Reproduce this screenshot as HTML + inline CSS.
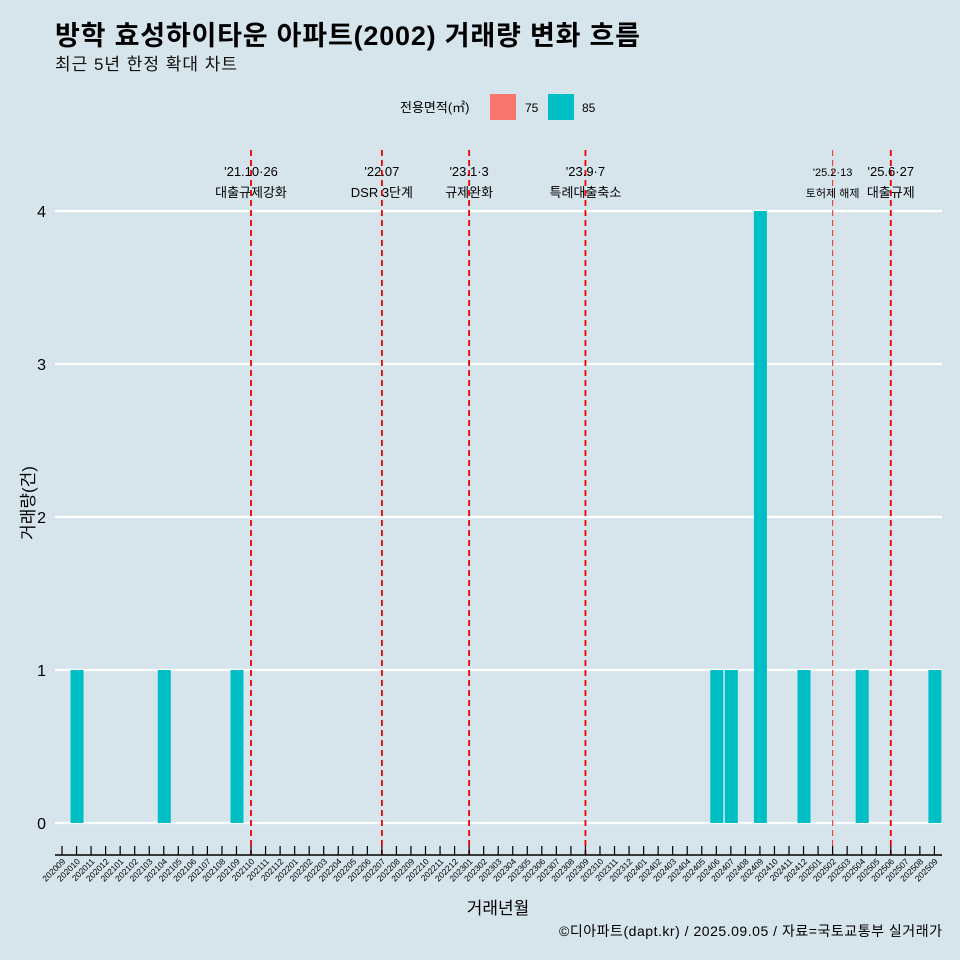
<!DOCTYPE html>
<html><head><meta charset="utf-8"><style>
body{margin:0;background:#d6e4eb;font-family:"Liberation Sans","Noto Sans CJK KR",sans-serif}
</style></head><body>
<svg id="c" width="960" height="960" xmlns="http://www.w3.org/2000/svg" style="display:block;font-family:'Liberation Sans','Noto Sans CJK KR',sans-serif">
<rect width="960" height="960" fill="#d6e4eb"/>
<text x="55" y="45" font-size="27" font-weight="bold" fill="#000" textLength="585">방학 효성하이타운 아파트(2002) 거래량 변화 흐름</text>
<text x="55" y="70" font-size="17" fill="#111" textLength="182">최근 5년 한정 확대 차트</text>
<g>
<text x="400" y="112" font-size="13">전용면적(㎡)</text>
<rect x="490" y="94" width="26" height="26" fill="#f8766d"/>
<text x="525" y="112" font-size="12">75</text>
<rect x="548" y="94" width="26" height="26" fill="#00bfc4"/>
<text x="582" y="112" font-size="12">85</text>
</g>
<g id="grid"></g><g id="bars"></g><g id="events"></g><g id="axes"></g>
<text x="498" y="914" font-size="17" text-anchor="middle">거래년월</text>
<text transform="translate(34,503) rotate(-90)" font-size="17" text-anchor="middle">거래량(건)</text>
<text x="942" y="936" font-size="14" text-anchor="end" textLength="383">©디아파트(dapt.kr) / 2025.09.05 / 자료=국토교통부 실거래가</text>
</svg>
<script>
const months=[];for(let y=2020;y<=2025;y++)for(let m=1;m<=12;m++){const k=y*100+m;if(k>=202009&&k<=202509)months.push(String(k));}
const barMonths=["202010","202104","202109","202406","202407","202409","202412","202504","202509"];
const barValues=[1,1,1,1,1,4,1,1,1];
const yTicks=[0,1,2,3,4];
const eventMonths=["202110","202207","202301","202309","202502","202506"];
const eventDates=["'21.10·26","'22.07","'23.1·3","'23.9·7","'25.2·13","'25.6·27"];
const eventLabels=["대출규제강화","DSR 3단계","규제완화","특례대출축소","토허제 해제","대출규제"];
const NS="http://www.w3.org/2000/svg";
const x=m=>62.5+months.indexOf(m)*14.54;
const y=v=>823-v*153;
function mk(t,a,p){const e=document.createElementNS(NS,t);for(const k in a)e.setAttribute(k,a[k]);p.appendChild(e);return e;}
const G=document.getElementById('grid'),B=document.getElementById('bars'),E=document.getElementById('events'),A=document.getElementById('axes');
yTicks.forEach(v=>{
 const l=mk('line',{x1:55,x2:942,y1:y(v),y2:y(v),stroke:'#fff','stroke-width':2.2},G);
 
 
 const t=mk('text',{x:46,y:y(v)+6,'font-size':16,'text-anchor':'end'},A);t.textContent=v;
 
 
});
barValues.forEach((v,i)=>{
 const r=mk('rect',{x:x(barMonths[i])-6.5,y:y(v),width:13,height:y(0)-y(v),fill:'#00bfc4'},B);
 
 
});
eventMonths.forEach((m,i)=>{
 const xx=x(m)-0.5;const thin=m==="202502";
 const l=mk('line',{x1:xx,x2:xx,y1:150,y2:855,stroke:thin?'#ee4444':'#ee0000','stroke-width':thin?1.2:1.8,'stroke-dasharray':'6,4'},E);
 
 
 const fs=thin?11:13;
 const t1=mk('text',{x:xx,y:176,'font-size':fs,'text-anchor':'middle'},E);t1.textContent=eventDates[i];
 
 
 const t2=mk('text',{x:xx,y:197,'font-size':fs,'text-anchor':'middle'},E);t2.textContent=eventLabels[i];
 
 
});
const ax=mk('line',{x1:55,x2:942,y1:855,y2:855,stroke:'#000','stroke-width':1.5},A);


months.forEach(m=>{
 const xx=x(m)-0.5;
 const tk=mk('line',{x1:xx,x2:xx,y1:846,y2:855,stroke:'#000','stroke-width':1.2},A);
 
 
 const t=mk('text',{'font-size':8.5,'text-anchor':'end',transform:`translate(${xx+4},${862}) rotate(-45)`},A);t.textContent=m;
 
 
});
</script>
</body></html>
